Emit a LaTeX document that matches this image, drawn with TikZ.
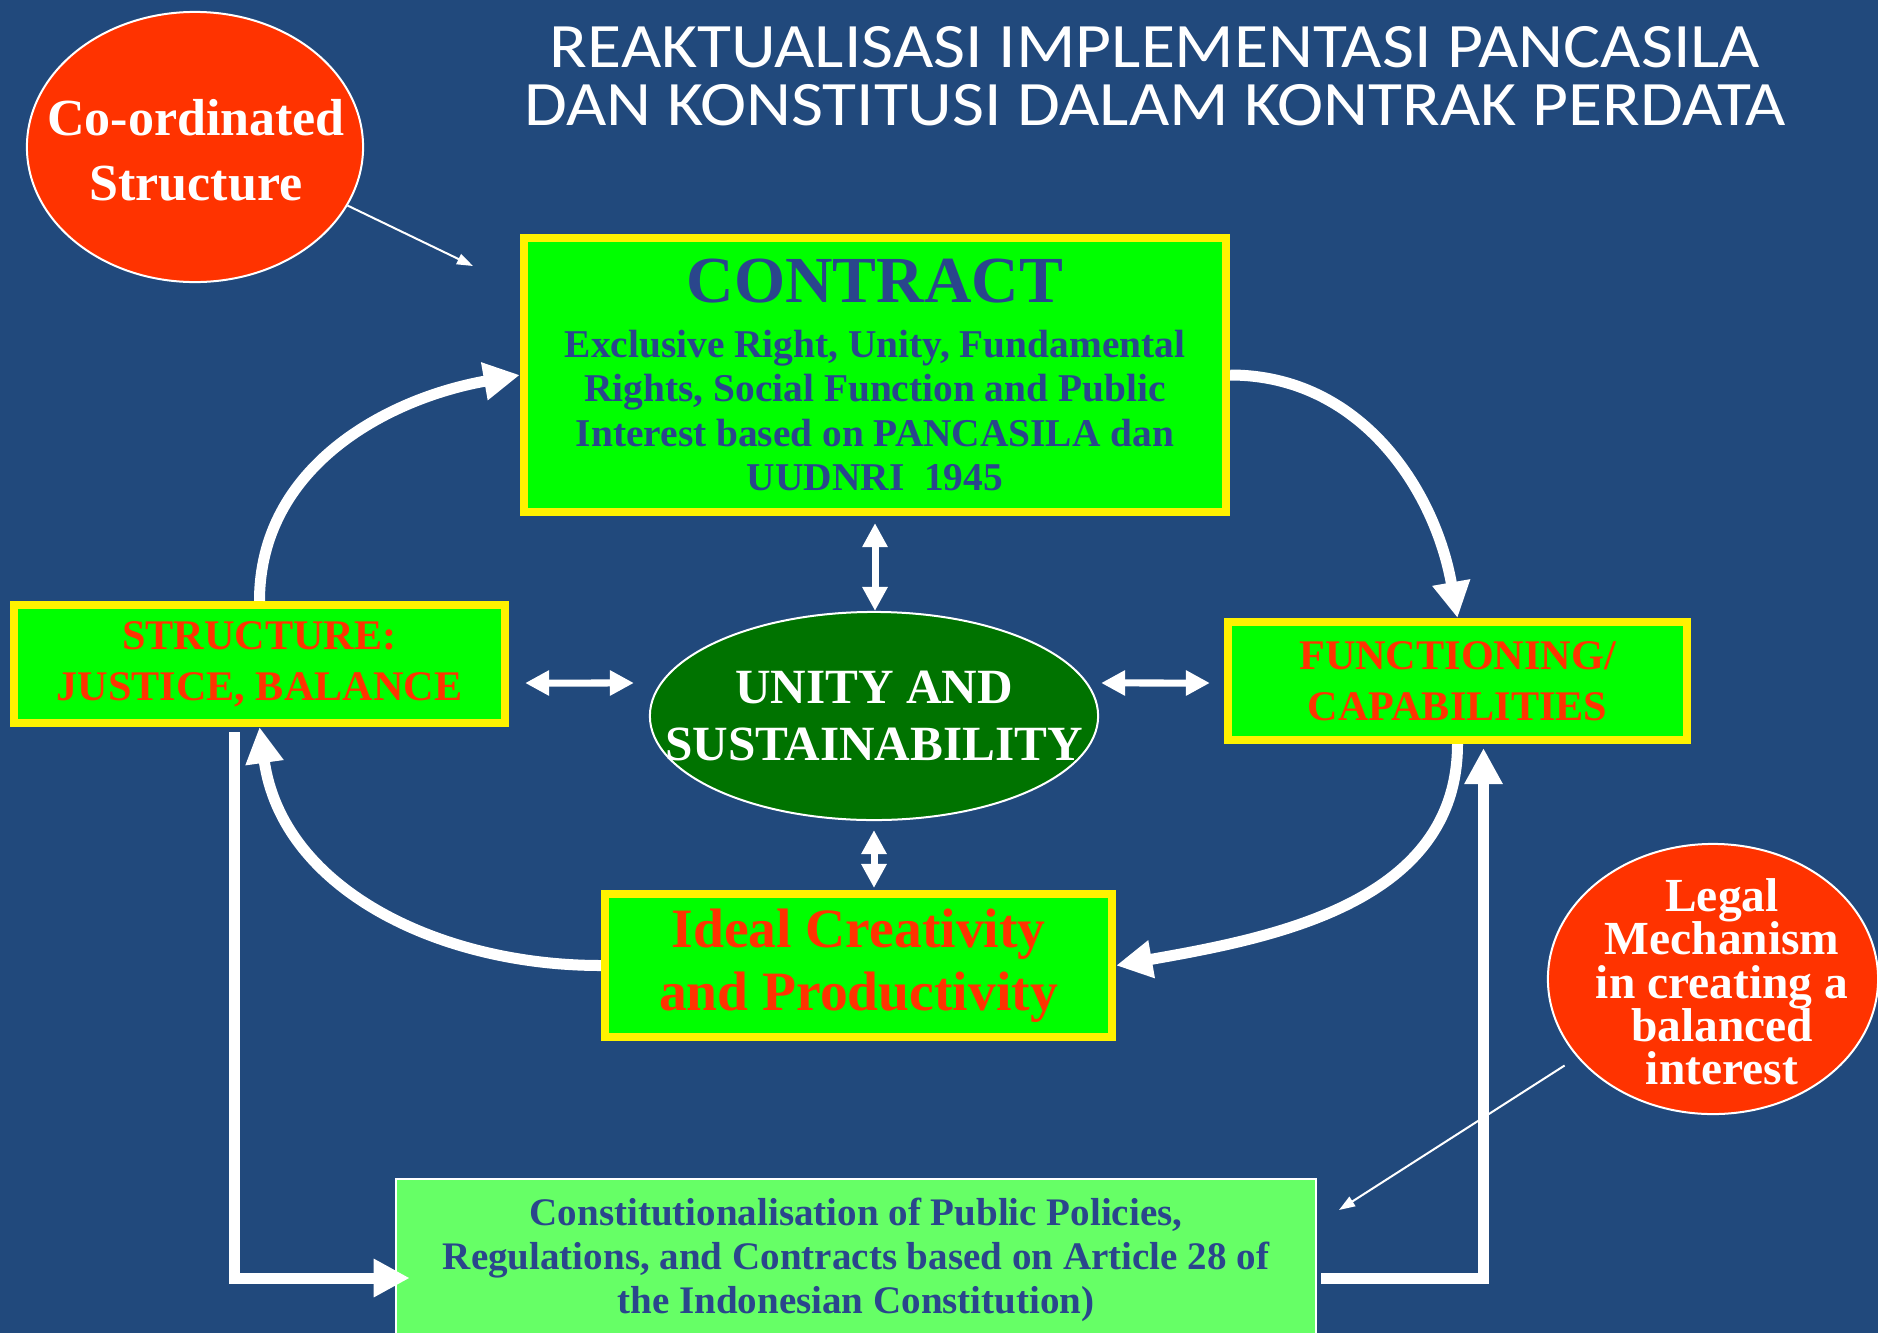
\documentclass[tikz,border=0pt]{standalone}
\usepackage{fontspec}
\setmainfont{Liberation Serif}
\newfontfamily\titlefont[FakeStretch=1.1]{Carlito}
\usepackage{tikz}
\usetikzlibrary{arrows.meta,shapes.geometric}

\definecolor{slideblue}{RGB}{33,73,124}
\definecolor{boxgreen}{RGB}{0,255,0}
\definecolor{palegreen}{RGB}{102,255,102}
\definecolor{darkgreen}{RGB}{0,115,0}
\definecolor{hotred}{RGB}{255,51,0}
\definecolor{inkblue}{RGB}{42,70,140}
\newcommand\tightlines{\lineskiplimit=-20pt\relax}

\begin{document}
\begin{tikzpicture}[x=0.01cm, y=-0.01cm]
        \tikzset{box/.style = {draw=yellow, line width=0.08cm, fill=boxgreen, align=center}}
        \tikzset{bubble/.style = {ellipse, draw=white, line width=0.02cm, inner sep=0pt}}
        \tikzset{label/.style = {text=white, align=center}}
        \tikzset{edge/.style = {-{Triangle[length=0.36cm,width=0.36cm]}, line width=0.11cm, draw=white}}
        \tikzset{twoway/.style = {{Triangle[length=0.24cm,width=0.24cm]}-{Triangle[length=0.24cm,width=0.24cm]}, line width=0.07cm, draw=white}}
        \tikzset{pointer/.style = {-{Triangle[length=0.16cm,width=0.11cm]}, line width=0.02cm, draw=white}}
        \useasboundingbox (0,0) rectangle (1878,1333);
        \fill[slideblue] (0,0) rectangle (1878,1333);
        % title
        \node[label, font=\titlefont\fontsize{18}{16.5}\selectfont\tightlines] (title) at (1155,76) {REAKTUALISASI IMPLEMENTASI PANCASILA\\DAN KONSTITUSI DALAM KONTRAK PERDATA};
        % vertices
        \node[box, minimum width=7.02cm, minimum height=2.74cm, text=inkblue, font=\bfseries\fontsize{11.2}{12.6}\selectfont] (contract) at (875,375) {{\fontsize{18.7}{21}\selectfont CONTRACT}\\[3pt]Exclusive Right, Unity, Fundamental\\Rights, Social Function and Public\\Interest based on PANCASILA dan\\UUDNRI\ \ 1945};
        \node[box, minimum width=4.91cm, minimum height=1.18cm, text=hotred, font=\bfseries\fontsize{12}{14.6}\selectfont] (structure) at (259.5,664) {STRUCTURE:\\JUSTICE, BALANCE};
        \node[box, minimum width=4.59cm, minimum height=1.18cm, text=hotred, font=\bfseries\fontsize{12}{14.6}\selectfont] (functioning) at (1457.5,681) {FUNCTIONING/\\CAPABILITIES};
        \node[bubble, fill=darkgreen, minimum width=4.48cm, minimum height=2.08cm] (unity) at (874,716) {};
        \node[label, font=\bfseries\fontsize{14}{16}\selectfont] (unitytext) at (unity) {UNITY AND\\SUSTAINABILITY};
        \node[box, minimum width=5.07cm, minimum height=1.43cm, text=hotred, font=\bfseries\fontsize{15.8}{18}\selectfont] (ideal) at (858.5,965.5) {Ideal Creativity\\and Productivity};
        \node[draw=white, line width=0.02cm, fill=palegreen, minimum width=9.2cm, minimum height=1.62cm, text=inkblue, align=center, font=\bfseries\fontsize{11.1}{12.6}\selectfont] (constit) at (856,1260) {Constitutionalisation of Public Policies,\\Regulations, and Contracts based on Article 28 of\\the Indonesian Constitution)};
        \node[bubble, fill=hotred, minimum width=3.36cm, minimum height=2.70cm] (coord) at (195,147) {};
        \node[label, font=\bfseries\fontsize{14.8}{18.4}\selectfont] (coordtext) at (196,150) {Co-ordinated\\Structure};
        \node[bubble, fill=hotred, minimum width=3.30cm, minimum height=2.70cm] (legal) at (1713,979) {};
        \node[label, font=\bfseries\fontsize{13.5}{12.3}\selectfont\tightlines] (legaltext) at (1722,982) {Legal\\Mechanism\\in creating a\\balanced\\interest};
        \coordinate (cstip) at (473,266);
        \coordinate (lmtip) at (1339,1210);
        %edges
        \draw[edge] (structure.north) to[out=90,in=190] (contract.west);
        \draw[edge] (contract.east) to[out=0,in=100] (functioning.north);
        \draw[edge] (functioning.south) to[out=-90,in=10] (ideal.east);
        \draw[edge] (ideal.west) to[out=180,in=-82] (structure.south);
        \draw[edge, shorten <=0.05cm, shorten >=-0.15cm] ([xshift=-0.245cm]structure.south) |- ([yshift=-0.18cm]constit.west);
        \draw[edge, shorten <=0.04cm, shorten >=0.04cm] ([yshift=-0.18cm]constit.east) -| ([xshift=0.26cm]functioning.south);
        \draw[twoway, shorten <=0.07cm] (contract.south) -- (contract.south |- unity.north);
        \draw[twoway, shorten <=0.09cm, shorten >=0.02cm] (unity.south) -- (unity.south |- ideal.north);
        \draw[twoway] ([xshift=0.16cm,yshift=-0.19cm]structure.east) -- ([xshift=-0.15cm,yshift=0.33cm]unity.west);
        \draw[twoway] ([xshift=0.02cm,yshift=0.33cm]unity.east) -- ([xshift=-0.14cm,yshift=-0.02cm]functioning.west);
        \draw[pointer] (coord.-21) -- (cstip);
        \draw[pointer, shorten <=0.15cm] (legal.210) -- (lmtip);
\end{tikzpicture}
\end{document}
